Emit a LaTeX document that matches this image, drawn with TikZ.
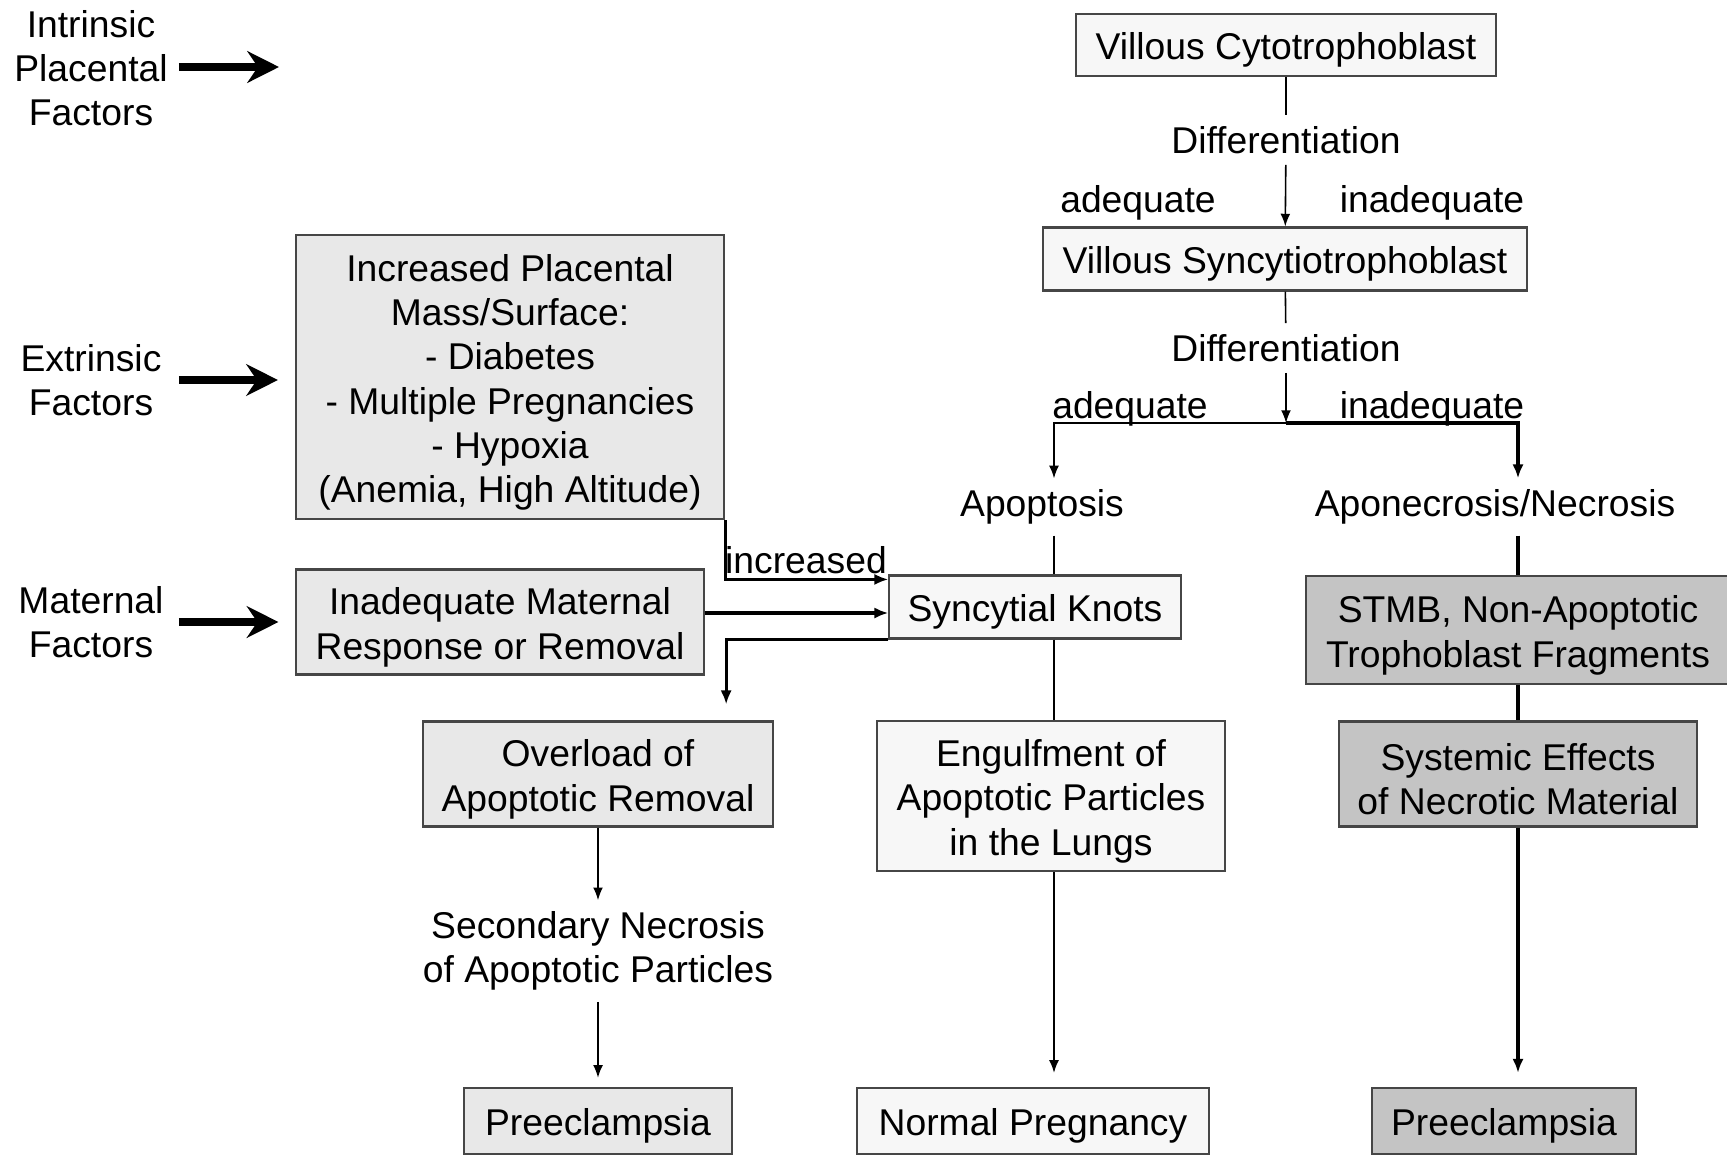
\documentclass[tikz,border=0pt]{standalone}
\usepackage{fontspec}
\setmainfont{Liberation Sans}
\usetikzlibrary{arrows.meta,calc,positioning}
\definecolor{boxlight}{RGB}{247,247,247}
\definecolor{boxmid}{RGB}{232,232,232}
\definecolor{boxdark}{RGB}{196,196,196}
\definecolor{boxline}{RGB}{70,70,70}
\tikzset{
    every node/.style={font=\fontsize{10.6}{12.6}\selectfont, align=center},
    box/.style={draw=boxline, line width=0.6pt, inner sep=0pt,
        execute at begin node={\vbox\bgroup\kern3pt\hbox\bgroup},
        execute at end node={\egroup\egroup}},
    lightbox/.style={box, fill=boxlight},
    midbox/.style={box, fill=boxmid},
    darkbox/.style={box, fill=boxdark},
    plain/.style={inner sep=3pt},
    thinline/.style={draw=black, line width=0.45pt},
    thickline/.style={draw=black, line width=0.9pt},
    thinarrow/.style={thinline, -{Latex[length=3.6pt,width=2.8pt]}},
    thickarrow/.style={thickline, -{Latex[length=4pt,width=3.2pt]}},
    bigarrow/.style={draw=black, line width=2.3pt, -{Stealth[length=9pt,width=9pt,inset=3pt]}},
}
\begin{document}
\begin{tikzpicture}[x=0.01cm, y=-0.01cm]
\useasboundingbox[fill=white] (0,0) rectangle (1727,1157);
\clip (0,0) rectangle (1727,1157);

% factors
\node[plain] (ipf) at (91,68) {Intrinsic\\Placental\\Factors};
\node[plain] (ef) at (91,380) {Extrinsic\\Factors};
\node[plain] (mf) at (91,622) {Maternal\\Factors};
\coordinate (ipfto) at (279,67);

\node[midbox, minimum width=4.28cm, minimum height=2.84cm] (ipm) at (510,377)
    {Increased Placental\\Mass/Surface:\\- Diabetes\\- Multiple Pregnancies\\- Hypoxia\\(Anemia, High Altitude)};
\node[midbox, minimum width=4.07cm, minimum height=1.05cm] (imr) at (500,622)
    {Inadequate Maternal\\Response or Removal};
\node[midbox, minimum width=3.50cm, minimum height=1.05cm] (ol) at (598,774)
    {Overload of\\Apoptotic Removal};
\node[plain] (sec) at (598,951) {Secondary Necrosis\\of Apoptotic Particles};
\node[midbox, minimum width=2.67cm, minimum height=0.66cm] (pl) at (598,1121) {Preeclampsia};

% trophoblast
\node[lightbox, minimum width=4.20cm, minimum height=0.62cm] (vc) at (1286,45) {Villous Cytotrophoblast};
\node[plain] (d1) at (1286,140) {Differentiation};
\node[plain] (a1) at (1138,203) {adequate};
\node[plain] (i1) at (1432,203) {inadequate};
\node[lightbox, minimum width=4.83cm, minimum height=0.63cm] (vs) at (1285,259) {Villous Syncytiotrophoblast};
\node[plain] (d2) at (1286,348) {Differentiation};
\node[plain] (a2) at (1130,409) {adequate};
\node[plain] (i2) at (1432,409) {inadequate};
\coordinate (split) at (1286,423);
\coordinate (ax) at (1054,423);
\coordinate (nx) at (1518,423);

\node[plain] (apop) at (1042,507) {Apoptosis};
\node[plain] (apon) at (1495,507) {Aponecrosis/Necrosis};
\node[lightbox, minimum width=2.91cm, minimum height=0.63cm] (sk) at (1035,607) {Syncytial Knots};
\node[lightbox, minimum width=3.47cm, minimum height=1.50cm] (eng) at (1051,796)
    {Engulfment of\\Apoptotic Particles\\in the Lungs};
\node[lightbox, minimum width=3.51cm, minimum height=0.66cm] (np) at (1033,1121) {Normal Pregnancy};

\node[darkbox, minimum width=4.24cm, minimum height=1.08cm] (stmb) at (1518,630)
    {STMB, Non-Apoptotic\\Trophoblast Fragments};
\node[darkbox, minimum width=3.57cm, minimum height=1.05cm] (sys) at (1518,774)
    {Systemic Effects\\of Necrotic Material};
\node[darkbox, minimum width=2.64cm, minimum height=0.66cm] (pr) at (1504,1121) {Preeclampsia};

\node[plain] (inc) at (806,560) {increased};

% connectors
\draw[bigarrow] (ipf.east |- ipfto) -- (ipfto);
\draw[bigarrow, shorten >=4.8pt] (ipf.east |- ef.east) -- (ipm.west |- ef.east);
\draw[bigarrow, shorten >=4.8pt] (ipf.east |- mf.east) -- (imr.west |- mf.east);

\draw[thinline] (vc) -- (d1);
\draw[thinarrow] (d1) -- (vs);
\draw[thinline] (vs) -- (d2);
\draw[thinarrow] (d2) -- (split);
\draw[thinarrow] (split) -- (ax) -- (ax |- apop.north);
\draw[thickarrow] (split) -- (nx) -- (nx |- apon.north);

\draw[thinline] (ax |- apop.south) -- (ax |- sk.north);
\draw[thinline] (ax |- sk.south) -- (ax |- eng.north);
\draw[thinarrow, shorten >=4pt] (ax |- eng.south) -- (ax |- np.north);

\draw[thickline] (nx |- apon.south) -- (nx |- stmb.north);
\draw[thickline] (stmb) -- (sys);
\draw[thickarrow, shorten >=4pt] (sys.south) -- (sys.south |- pr.north);

\coordinate (skin) at ($(sk.north west)+(0,5)$);
\coordinate (skmid) at ($(sk.west)+(0,6)$);
\coordinate (olin) at ($(ol.north east)+(-48,-16)$);
\draw[thickarrow] (ipm.south east) |- (skin);
\draw[thickarrow] (imr.east |- skmid) -- (skmid);
\draw[thickarrow] (sk.south west) -| (olin);

\draw[thinarrow] (ol) -- (sec);
\draw[thinarrow, shorten >=2.6pt] (sec) -- (pl);
\end{tikzpicture}
\end{document}
